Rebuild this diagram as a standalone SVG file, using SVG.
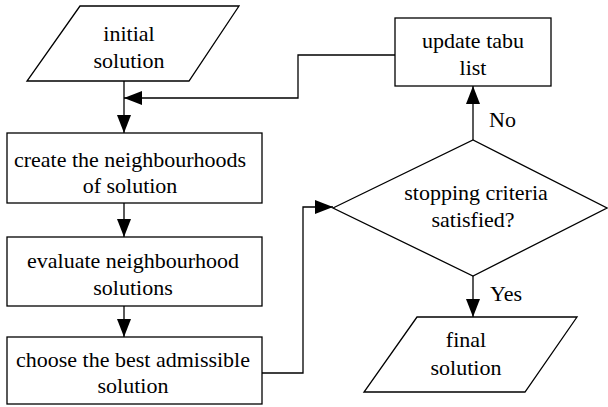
<svg xmlns="http://www.w3.org/2000/svg" width="608" height="407" viewBox="0 0 608 407">
<style>
.s{fill:#fff;stroke:#000;stroke-width:1.3}
.c{fill:none;stroke:#000;stroke-width:1.3}
.t{font-family:'Liberation Serif','Times New Roman',serif;font-size:22px;fill:#000;text-anchor:middle}
.l{text-anchor:start}
</style>
<defs>
<marker id="b" viewBox="0 0 18 14" refX="18" refY="7" markerWidth="18" markerHeight="14" markerUnits="userSpaceOnUse" orient="auto">
<path d="M0,0L18,7L0,14z" fill="#000"/>
</marker>
</defs>
<g id="connectors">
<path class="c" d="M124,81V133" marker-end="url(#b)"/>
<path class="c" d="M395,55H298V98H124" marker-end="url(#b)"/>
<path class="c" d="M124,203V237" marker-end="url(#b)"/>
<path class="c" d="M124,306V337" marker-end="url(#b)"/>
<path class="c" d="M262,373H303V207H333" marker-end="url(#b)"/>
<path class="c" d="M473,140V86" marker-end="url(#b)"/>
<path class="c" d="M473,276V317" marker-end="url(#b)"/>
<text class="t l" x="489" y="127">No</text>
<text class="t l" x="490" y="301">Yes</text>
</g>
<g id="initial">
<path class="s" d="M80,6H239L189,81H27z"/>
<text class="t" x="129" y="41">initial</text>
<text class="t" x="129" y="68">solution</text>
</g>
<g id="create">
<rect class="s" x="7" y="133" width="255" height="70"/>
<text class="t" x="130" y="167">create the neighbourhoods</text>
<text class="t" x="130" y="193">of solution</text>
</g>
<g id="evaluate">
<rect class="s" x="7" y="237" width="255" height="69"/>
<text class="t" x="133" y="268">evaluate neighbourhood</text>
<text class="t" x="133" y="295">solutions</text>
</g>
<g id="choose">
<rect class="s" x="7" y="337" width="255" height="67"/>
<text class="t" x="133" y="367">choose the best admissible</text>
<text class="t" x="133" y="393">solution</text>
</g>
<g id="update">
<rect class="s" x="395" y="18" width="156" height="68"/>
<text class="t" x="473" y="48">update tabu</text>
<text class="t" x="473" y="75">list</text>
</g>
<g id="stopping">
<path class="s" d="M333,208L473,140L607,208L473,276z"/>
<text class="t" x="476" y="200">stopping criteria</text>
<text class="t" x="473" y="227">satisfied?</text>
</g>
<g id="final">
<path class="s" d="M417,317H577L525,392H364z"/>
<text class="t" x="466" y="347">final</text>
<text class="t" x="466" y="375">solution</text>
</g>
</svg>
